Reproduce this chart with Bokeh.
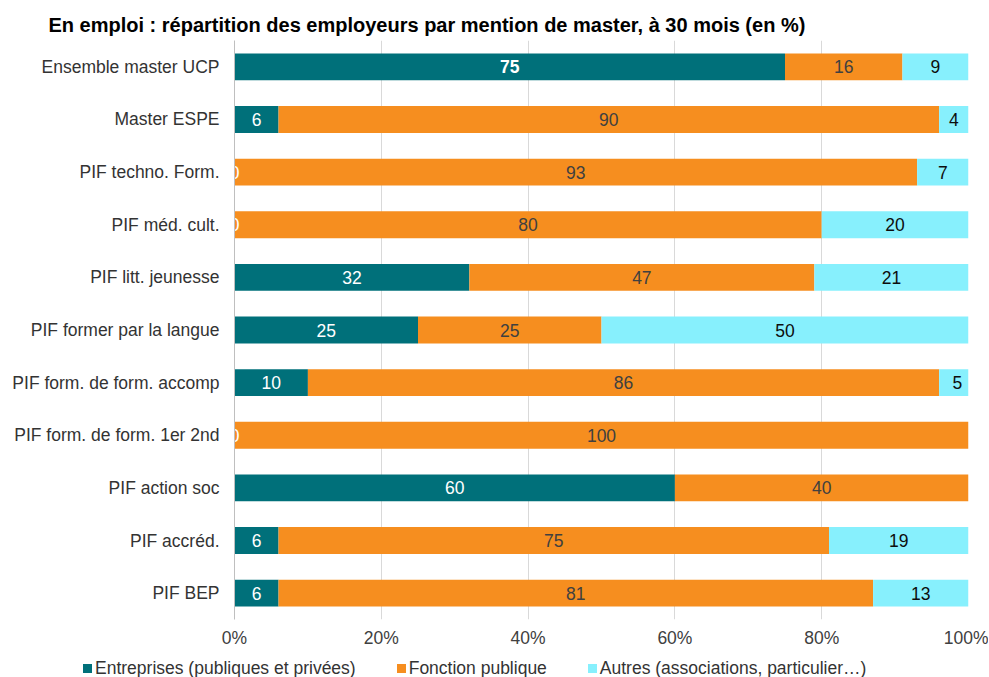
from bokeh.plotting import figure
from bokeh.layouts import column
from bokeh.models import (ColumnDataSource, FactorRange, Range1d, Title, FixedTicker, Div)
from bokeh.embed import file_html
from bokeh.resources import INLINE
from bokeh.core.properties import value

categories = ["Ensemble master UCP", "Master ESPE", "PIF techno. Form.", "PIF méd. cult.",
              "PIF litt. jeunesse", "PIF former par la langue", "PIF form. de form. accomp",
              "PIF form. de form. 1er 2nd", "PIF action soc", "PIF accréd.", "PIF BEP"]
entreprises = [75, 6, 0, 0, 32, 25, 10, 0, 60, 6, 6]
fonction_publique = [16, 90, 93, 80, 47, 25, 86, 100, 40, 75, 81]
autres = [9, 4, 7, 20, 21, 50, 5, 0, 0, 19, 13]
series_names = ["Entreprises (publiques et privées)", "Fonction publique",
                "Autres (associations, particulier…)"]
x_ticks = [0, 20, 40, 60, 80, 100]
title_text = "En emploi  : répartition des employeurs par mention de master, à 30 mois  (en %)"

colors = ["#00707A", "#F68E1F", "#87F0FD"]
label_colors = ["#FFFFFF", "#404040", "#0D0D0D"]
FONT = "Liberation Sans"
FS = "17.5px"

src = ColumnDataSource(dict(cat=categories, e=entreprises, f=fonction_publique, a=autres))

p = figure(width=988, height=650, output_backend="svg", toolbar_location=None,
           y_range=FactorRange(factors=list(reversed(categories)), range_padding=0),
           x_range=Range1d(0, 100),
           min_border_left=234, min_border_right=20, min_border_top=40, min_border_bottom=31)

renderers = p.hbar_stack(["e", "f", "a"], y="cat", height=0.51, color=colors, source=src,
                         line_color=None)

# data labels
series = [entreprises, fonction_publique, autres]
lx, ly, lt, lc, ls = [], [], [], [], []
for si, vals in enumerate(series):
    for ci, cat in enumerate(categories):
        v = vals[ci]
        start = sum(series[k][ci] for k in range(si))
        if v == 0 and si != 0:
            continue
        lx.append(start + v / 2)
        ly.append(cat)
        lt.append(str(v))
        lc.append(label_colors[si])
        ls.append("bold" if ci == 0 and si == 0 else "normal")
lsrc = ColumnDataSource(dict(x=lx, y=ly, t=lt, c=lc, s=ls))
p.text(x="x", y="y", text="t", source=lsrc, text_color="c", text_font_style="s",
       text_font=value(FONT), text_font_size=FS, text_align="center",
       text_baseline="middle")

p.title = Title(text=title_text, align="left", offset=-186, standoff=10, text_font=FONT,
                text_font_size="20px", text_font_style="bold", text_color="#000000")

p.xaxis.ticker = FixedTicker(ticks=x_ticks)
p.xaxis.major_label_overrides = {t: f"{t}%" for t in x_ticks}
p.xaxis.axis_line_color = None
p.xaxis.major_tick_line_color = None
p.xaxis.minor_tick_line_color = None
p.xaxis.major_tick_out = 0
p.xaxis.major_tick_in = 0
p.xaxis.major_label_text_font = FONT
p.xaxis.major_label_text_font_size = FS
p.xaxis.major_label_text_color = "#404040"
p.xaxis.major_label_standoff = 8

p.yaxis.axis_line_color = "#BFBFBF"
p.yaxis.major_tick_line_color = None
p.yaxis.minor_tick_line_color = None
p.yaxis.major_tick_out = 0
p.yaxis.major_tick_in = 0
p.yaxis.major_label_text_font = FONT
p.yaxis.major_label_text_font_size = FS
p.yaxis.major_label_text_color = "#333333"
p.yaxis.major_label_standoff = 15

p.ygrid.grid_line_color = None
p.xgrid.grid_line_color = "#D9D9D9"
p.outline_line_color = None

# legend strip below the chart (HTML)
items_html = "".join(
    f'<span style="display:inline-flex;align-items:center;margin-right:{0 if i == 2 else 41}px;">'
    f'<span style="display:inline-block;width:9px;height:9px;background:{colors[i]};'
    f'margin-right:3px;"></span>{series_names[i]}</span>'
    for i in range(3))
legend_div = Div(text=f'<div style="padding-left:83px;padding-top:8px;white-space:nowrap;'
                      f'font-family:\'{FONT}\';font-size:{FS};line-height:20px;color:#333333;'
                      f'display:flex;align-items:center;">{items_html}</div>',
                 width=988, height=26, margin=0)

layout = column(p, legend_div, spacing=0)
open("out.html", "w").write(file_html(layout, INLINE))
